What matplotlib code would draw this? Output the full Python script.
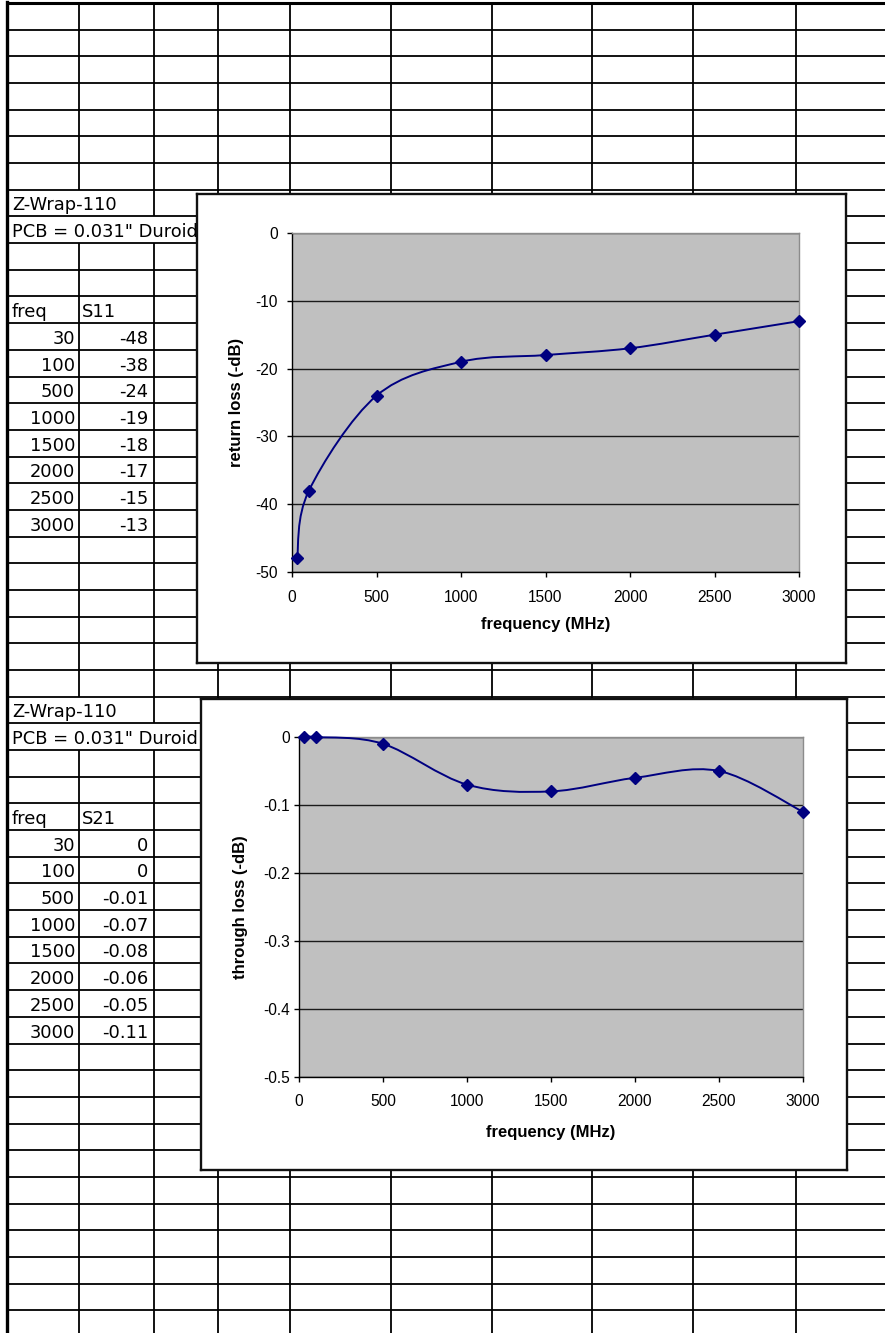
import numpy as np
import matplotlib
matplotlib.use('Agg')
import matplotlib.pyplot as plt
from matplotlib.path import Path
from matplotlib.patches import PathPatch

# dados das planilhas
titulo = 'Z-Wrap-110'
pcb = 'PCB = 0.031" Duroid'
freq = [30, 100, 500, 1000, 1500, 2000, 2500, 3000]
s11 = [-48, -38, -24, -19, -18, -17, -15, -13]
s21 = [0, 0, -0.01, -0.07, -0.08, -0.06, -0.05, -0.11]

xticks = [0, 500, 1000, 1500, 2000, 2500, 3000]
yticks_s11 = [0, -10, -20, -30, -40, -50]
yticks_s21 = [0, -0.1, -0.2, -0.3, -0.4, -0.5]

xlabel = 'frequency (MHz)'
ylabel_s11 = 'return loss (-dB)'
ylabel_s21 = 'through loss (-dB)'

# layout da pagina (pixels)
W, H = 885, 1333
row0 = 3.0
rowh = 26.68
nrows = 50
cols = [7, 79, 154, 218, 290, 391, 492, 592, 693, 796]
blocos = [7, 26]

navy = '#000080'
fonte_planilha = 'DejaVu Sans'
fonte_graf = 'Liberation Sans'

fig = plt.figure(figsize=(W / 100, H / 100), dpi=100)
fig.patch.set_facecolor('white')

ax_bg = fig.add_axes([0, 0, 1, 1], zorder=0)
ax_bg.set_xlim(0, W)
ax_bg.set_ylim(H, 0)
ax_bg.axis('off')

# linhas horizontais
for k in range(nrows):
    y = row0 + k * rowh
    lw = 2.2 if k == 0 else 1.3
    ax_bg.plot([cols[0], W], [y, y], color='black', lw=lw,
               solid_capstyle='butt')

# linhas verticais (celulas mescladas sem linha)
for k in range(nrows):
    y0 = row0 + k * rowh
    for c in cols[1:]:
        if k in blocos and c == 79:
            continue
        if (k - 1) in blocos and c in (79, 154):
            continue
        ax_bg.plot([c, c], [y0, y0 + rowh], color='black', lw=1.3,
                   solid_capstyle='butt')
ax_bg.plot([cols[0], cols[0]], [row0 - 1, H], color='black', lw=2.4)


def base(k):
    return row0 + (k + 1) * rowh - 6


def celula(x, k, txt, ha='left'):
    ax_bg.text(x, base(k), txt, ha=ha, va='baseline', fontsize=12.9,
               family=fonte_planilha, color='black')


for b, nome, vals in [(blocos[0], 'S11', s11), (blocos[1], 'S21', s21)]:
    celula(12, b, titulo)
    celula(12, b + 1, pcb)
    celula(12, b + 4, 'freq')
    celula(82, b + 4, nome)
    for i, (f, v) in enumerate(zip(freq, vals)):
        celula(75, b + 5 + i, f'{f}', ha='right')
        celula(148, b + 5 + i, f'{v:g}', ha='right')


def fig_rect(x0, y0, x1, y1):
    return [x0 / W, 1 - y1 / H, (x1 - x0) / W, (y1 - y0) / H]


def curva_suave(ax, x, y, **kw):
    p = np.column_stack([x, y]).astype(float)
    ext = np.vstack([p[0], p, p[-1]])
    verts = [p[0]]
    codes = [Path.MOVETO]
    for i in range(len(p) - 1):
        c1 = ext[i + 1] + (ext[i + 2] - ext[i]) / 6
        c2 = ext[i + 2] - (ext[i + 3] - ext[i + 1]) / 6
        verts += [c1, c2, p[i + 1]]
        codes += [Path.CURVE4] * 3
    ax.add_patch(PathPatch(Path(verts, codes), fill=False, clip_on=False,
                           **kw))


def grafico(caixa, area, yvals, yticks, ylabel, ypad, ylab_x, xlab_y):
    axb = fig.add_axes(fig_rect(*caixa), zorder=1)
    axb.set_facecolor('white')
    axb.set_xticks([])
    axb.set_yticks([])
    for s in axb.spines.values():
        s.set_color('#111111')
        s.set_linewidth(1.7)

    ax = fig.add_axes(fig_rect(*area), zorder=2)
    ax.set_facecolor('#C0C0C0')
    ax.set_xlim(xticks[0], xticks[-1])
    ax.set_ylim(yticks[-1], yticks[0])
    ax.set_xticks(xticks)
    ax.set_yticks(yticks)
    ax.set_xticklabels([f'{t}' for t in xticks])
    ax.set_yticklabels([f'{t:g}' for t in yticks])
    ax.yaxis.grid(True, color='#1a1a1a', lw=1.0)
    ax.set_axisbelow(True)
    for s in ['top', 'right']:
        ax.spines[s].set_color('#8c8c8c')
        ax.spines[s].set_linewidth(1.0)
    for s in ['left', 'bottom']:
        ax.spines[s].set_color('black')
        ax.spines[s].set_linewidth(1.0)
    ax.tick_params(axis='both', direction='out', length=3.6, width=1.0,
                   labelsize=11.2, colors='black')
    ax.tick_params(axis='x', pad=9.0)
    ax.tick_params(axis='y', pad=ypad)
    for t in ax.get_xticklabels() + ax.get_yticklabels():
        t.set_family(fonte_graf)

    curva_suave(ax, freq, yvals, edgecolor=navy, lw=1.4, zorder=3)
    ax.plot(freq, yvals, linestyle='none', marker='D', ms=6,
            color=navy, clip_on=False, zorder=4)

    ax.set_xlabel(xlabel, fontsize=12, fontweight='bold',
                  family=fonte_graf)
    ax.set_ylabel(ylabel, fontsize=12, fontweight='bold',
                  family=fonte_graf)
    ax.xaxis.set_label_coords(0.5, xlab_y)
    ax.yaxis.set_label_coords(ylab_x, 0.5)
    ax.xaxis.label.set_va('center')
    ax.yaxis.label.set_va('center')
    return ax


grafico((197, 194, 846, 663), (292, 233, 799, 572), s11, yticks_s11,
        ylabel_s11, 6.5, (237 - 292) / 507, -(625 - 572) / 339)
grafico((201, 699, 847, 1170), (299, 737, 803, 1077), s21, yticks_s21,
        ylabel_s21, 3.0, (240 - 299) / 504, -(1132 - 1077) / 340)

fig.savefig('out.png', dpi=100, facecolor='white')
